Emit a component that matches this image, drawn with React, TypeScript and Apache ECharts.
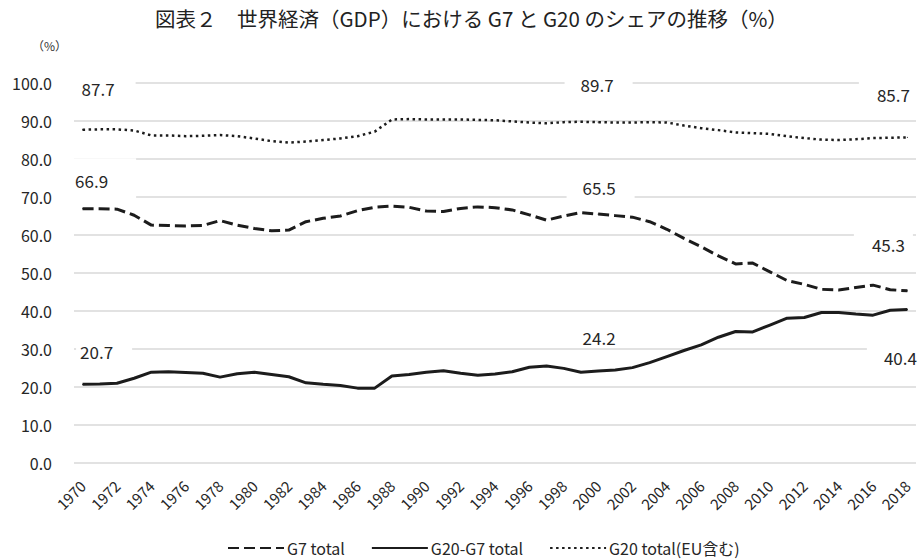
import React, { useEffect, useRef } from "react";
import * as echarts from "echarts";

const years: string[] = [];
for (let y = 1970; y <= 2018; y++) years.push(String(y));

const g7Total = [
  66.9, 66.9, 66.8, 65.2, 62.6, 62.5, 62.4, 62.5, 63.8, 62.6,
  61.7, 61.1, 61.3, 63.5, 64.4, 65.0, 66.4, 67.3, 67.6, 67.3,
  66.3, 66.2, 67.0, 67.4, 67.2, 66.6, 65.3, 63.9, 65.0, 65.9,
  65.5, 65.1, 64.7, 63.5, 61.5, 59.1, 56.9, 54.5, 52.4, 52.6,
  50.3, 48.0, 47.0, 45.7, 45.5, 46.2, 46.8, 45.6, 45.3,
];

const g20MinusG7 = [
  20.7, 20.8, 21.0, 22.3, 23.9, 24.0, 23.8, 23.6, 22.6, 23.5,
  23.9, 23.3, 22.7, 21.1, 20.7, 20.4, 19.7, 19.7, 22.9, 23.3,
  23.9, 24.3, 23.6, 23.1, 23.4, 24.0, 25.2, 25.5, 24.9, 23.9,
  24.2, 24.5, 25.1, 26.4, 28.0, 29.6, 31.1, 33.1, 34.6, 34.5,
  36.3, 38.1, 38.3, 39.6, 39.6, 39.2, 38.9, 40.2, 40.4,
];

const g20Total = [
  87.7, 87.8, 87.8, 87.5, 86.2, 86.2, 86.0, 86.1, 86.3, 86.0,
  85.4, 84.7, 84.3, 84.6, 85.0, 85.4, 86.0, 87.2, 90.4, 90.5,
  90.4, 90.4, 90.4, 90.3, 90.2, 89.9, 89.6, 89.4, 89.7, 89.8,
  89.7, 89.6, 89.6, 89.7, 89.6, 88.8, 88.1, 87.6, 87.0, 86.8,
  86.6, 86.0, 85.5, 85.1, 85.0, 85.2, 85.5, 85.6, 85.7,
];

const seriesNames = ["G7 total", "G20-G7 total", "G20 total(EU含む)"];
const yTicks = { min: 0, max: 100, interval: 10 };
const titleText = "図表２　世界経済（GDP）における G7 と G20 のシェアの推移（%）";
const unitText = "（%）";

const FONT = "'Noto Sans CJK JP', 'Noto Sans', sans-serif";
const LINE_COLOR = "#1c1c1c";
const LABEL_COLOR = "#262626";

type LabelCfg = { offset: number[]; padding: number[]; bg: boolean };

const g7Labels: Record<number, LabelCfg> = {
  0: { offset: [21, -28], padding: [14, 28, 14, 4], bg: true },
  30: { offset: [2.5, -27], padding: [5, 19, 5, 16], bg: true },
  48: { offset: [-24, -46], padding: [5, 8, 5, 18], bg: true },
};
const g20mG7Labels: Record<number, LabelCfg> = {
  0: { offset: [21.5, -32.6], padding: [4, 19, 4, 4], bg: true },
  30: { offset: [1, -34], padding: [0, 0, 0, 0], bg: false },
  48: { offset: [-13.5, 48], padding: [5, 4, 5, 17], bg: true },
};
const g20Labels: Record<number, LabelCfg> = {
  0: { offset: [20, -41], padding: [4, 21, 4, 12], bg: true },
  30: { offset: [0.5, -38], padding: [4, 19, 4, 16], bg: true },
  48: { offset: [-19, -42.5], padding: [6, 8, 6, 18], bg: true },
};

function buildData(values: number[], labels: Record<number, LabelCfg>) {
  return values.map((v, i) => {
    const cfg = labels[i];
    if (!cfg) return v;
    return {
      value: v,
      symbol: "circle",
      symbolSize: 1,
      label: {
        show: true,
        position: "inside",
        offset: cfg.offset,
        padding: cfg.padding,
        backgroundColor: cfg.bg ? "#ffffff" : "transparent",
        color: LABEL_COLOR,
        fontSize: 17,
        fontFamily: FONT,
        formatter: (p: any) => Number(p.value).toFixed(1),
      },
    };
  });
}

export default function App() {
  const ref = useRef<HTMLDivElement>(null);
  useEffect(() => {
    if (!ref.current) return;
    const chart = echarts.init(ref.current, undefined, { renderer: "svg" });
    const common = {
      type: "line",
      symbol: "none",
      showSymbol: true,
      smooth: false,
      z: 3,
    };
    chart.setOption({
      animation: false,
      backgroundColor: "#ffffff",
      textStyle: { fontFamily: FONT },
      title: {
        text: titleText,
        left: 150,
        top: 3,
        textStyle: {
          fontFamily: FONT,
          fontSize: 20.5,
          fontWeight: "normal",
          color: "#222222",
        },
      },
      graphic: [
        {
          type: "text",
          left: 32,
          top: 39,
          style: {
            text: unitText,
            fontFamily: FONT,
            fontSize: 12,
            fill: "#333333",
          },
        },
      ],
      legend: {
        top: 535,
        left: 222,
        itemWidth: 56,
        itemHeight: 14,
        itemGap: 26,
        itemStyle: { opacity: 0 },
        textStyle: { fontFamily: FONT, fontSize: 16, color: "#262626", padding: [0, 0, 0, -2] },
        data: seriesNames,
      },
      grid: { left: 74, right: 7, top: 83, bottom: 96, containLabel: false },
      xAxis: {
        type: "category",
        data: years,
        boundaryGap: true,
        axisLine: { show: false },
        axisTick: { show: false },
        axisLabel: {
          interval: 1,
          rotate: 45,
          margin: 20,
          fontSize: 15,
          fontFamily: FONT,
          color: "#262626",
        },
        splitLine: { show: false },
      },
      yAxis: {
        type: "value",
        min: yTicks.min,
        max: yTicks.max,
        interval: yTicks.interval,
        axisLine: { show: false },
        axisTick: { show: false },
        axisLabel: {
          formatter: (v: number) => v.toFixed(1),
          fontSize: 16,
          fontFamily: FONT,
          color: "#262626",
          margin: 22,
        },
        splitLine: { lineStyle: { color: "#d9d9d9", width: 1.5 } },
      },
      series: [
        {
          ...common,
          name: seriesNames[0],
          data: buildData(g7Total, g7Labels),
          itemStyle: { color: LINE_COLOR },
          lineStyle: { color: LINE_COLOR, width: 3, type: [11, 5] },
        },
        {
          ...common,
          name: seriesNames[1],
          data: buildData(g20MinusG7, g20mG7Labels),
          itemStyle: { color: LINE_COLOR },
          lineStyle: { color: LINE_COLOR, width: 3, type: "solid" },
        },
        {
          ...common,
          name: seriesNames[2],
          data: buildData(g20Total, g20Labels),
          itemStyle: { color: LINE_COLOR },
          lineStyle: { color: LINE_COLOR, width: 2.5, type: [2.5, 3.5] },
        },
      ],
    });
    return () => chart.dispose();
  }, []);
  return (
    <div
      ref={ref}
      style={{ position: "absolute", left: 0, top: 0, width: 923, height: 559 }}
    />
  );
}
